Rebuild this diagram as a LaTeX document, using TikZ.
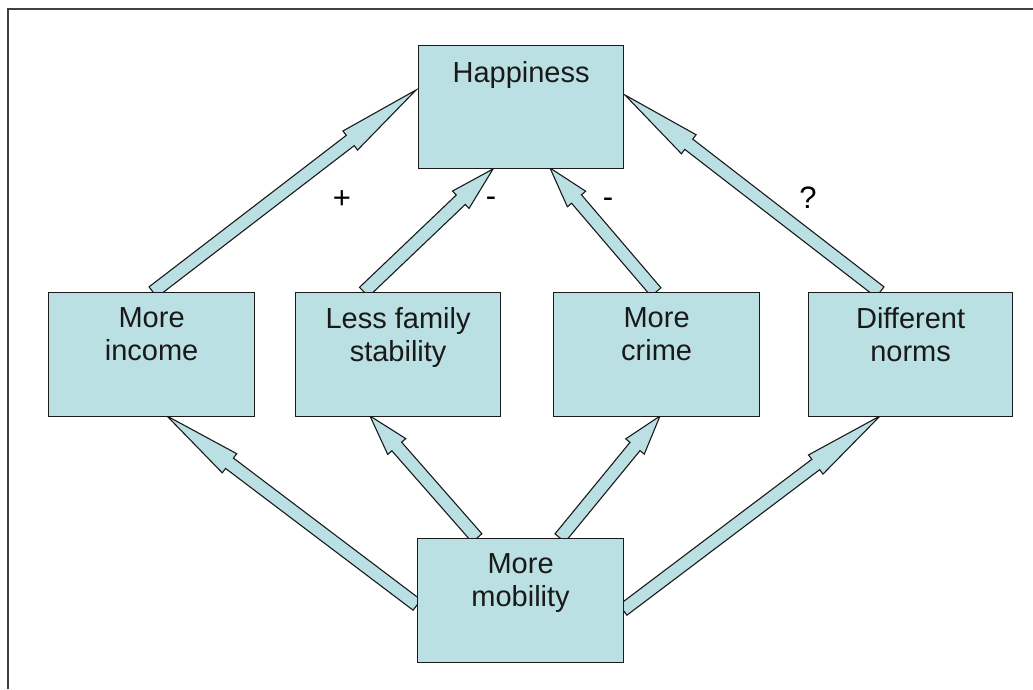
\documentclass[tikz,border=0pt]{standalone}
\usepackage{fontspec}
\setmainfont{Liberation Sans}
\usetikzlibrary{calc}
\definecolor{boxfill}{HTML}{BBE0E3}
\definecolor{edge}{HTML}{1A1A1A}
\definecolor{framec}{HTML}{404040}
\tikzset{
  box/.style={draw=edge, line width=1.2pt, fill=boxfill, rectangle, inner sep=0pt, anchor=north west, minimum width=206pt, minimum height=124pt},
  txt/.style={anchor=north, inner sep=0pt, align=center, font=\fontsize{29}{33}\selectfont, text=black!90},
  sign/.style={inner sep=0pt, font=\fontsize{31}{33}\selectfont},
  arr/.style={draw=edge, line width=1.1pt, fill=boxfill, line join=miter}
}
\newcommand\blockarrow[2]{%
  \coordinate (hb) at ($(#1)!0.75!(#2)$);
  \draw[arr] ($(#1)!6.5pt!90:(#2)$) -- ($(hb)!6.5pt!90:(#2)$) -- ($(hb)!12pt!90:(#2)$) -- (#2)
    -- ($(hb)!12pt!-90:(#2)$) -- ($(hb)!6.5pt!-90:(#2)$) -- ($(#1)!6.5pt!-90:(#2)$) -- cycle;}
\begin{document}
\begin{tikzpicture}[x=1pt, y=-1pt]
\useasboundingbox (0,0) rectangle (1033,689);
% frame
\draw[framec, line width=2pt] (8,689) -- (8,9) -- (1033,9);
% arrow ends
\coordinate (a1s) at (153,292); \coordinate (a1t) at (416,90);
\coordinate (a2s) at (364,292); \coordinate (a2t) at (493,169);
\coordinate (a3s) at (656,292); \coordinate (a3t) at (550,168);
\coordinate (a4s) at (880,292); \coordinate (a4t) at (625,95);
\coordinate (a5s) at (417,605); \coordinate (a5t) at (167,416);
\coordinate (a6s) at (477,538); \coordinate (a6t) at (370,416);
\coordinate (a7s) at (560,538); \coordinate (a7t) at (660,416);
\coordinate (a8s) at (623,610); \coordinate (a8t) at (880,416);
\blockarrow{a1s}{a1t}
\blockarrow{a2s}{a2t}
\blockarrow{a3s}{a3t}
\blockarrow{a4s}{a4t}
\blockarrow{a5s}{a5t}
\blockarrow{a6s}{a6t}
\blockarrow{a7s}{a7t}
\blockarrow{a8s}{a8t}
% boxes
\node[box, minimum width=205pt, minimum height=123pt] (hap) at (418,45) {};
\node[box] (inc) at (48,292) {};
\node[box, minimum width=205pt] (stab) at (295,292) {};
\node[box] (crime) at (553,292) {};
\node[box, minimum width=204pt] (norms) at (808,292) {};
\node[box] (mob) at (417,538) {};
% texts
\node[txt] (hapt) at ($(hap.north)+(0,16)$) {Happiness};
\node[txt] (inct) at ($(inc.north)+(0,15)$) {More\\income};
\node[txt] (stabt) at ($(stab.north)+(0,15)$) {Less family\\stability};
\node[txt] (crimet) at ($(crime.north)+(0,15)$) {More\\crime};
\node[txt] (normst) at ($(norms.north)+(0,15)$) {Different\\norms};
\node[txt] (mobt) at ($(mob.north)+(0,15)$) {More\\mobility};
% signs
\node[sign] (s1) at (342,200) {+};
\node[sign] (s2) at (491,202) {-};
\node[sign] (s3) at (608,203) {-};
\node[sign] (s4) at (808,198) {?};
\end{tikzpicture}
\end{document}
